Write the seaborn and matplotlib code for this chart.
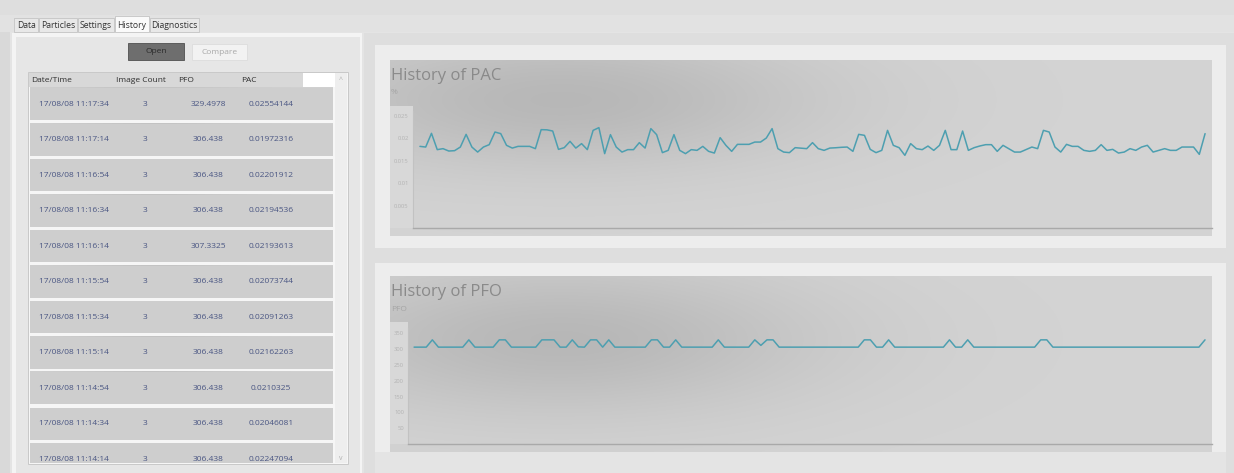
import numpy as np
import pandas as pd
import matplotlib
matplotlib.use("Agg")
import matplotlib.pyplot as plt
import seaborn as sns
from matplotlib.patches import Rectangle

# --- table values (newest first, as in the list view) ---
row_times = ["17/08/08 11:17:34", "17/08/08 11:17:14", "17/08/08 11:16:54", "17/08/08 11:16:34",
             "17/08/08 11:16:14", "17/08/08 11:15:54", "17/08/08 11:15:34", "17/08/08 11:15:14",
             "17/08/08 11:14:54", "17/08/08 11:14:34", "17/08/08 11:14:14"]
row_counts = ["3"] * 11
row_pfo = ["329.4978", "306.438", "306.438", "306.438", "307.3325", "306.438",
           "306.438", "306.438", "306.438", "306.438", "306.438"]
row_pac = ["0.02554144", "0.01972316", "0.02201912", "0.02194536", "0.02193613", "0.02073744",
           "0.02091263", "0.02162263", "0.0210325", "0.02046081", "0.02247094"]

# --- chart series (oldest -> newest) ---
pac_series = [0.01821, 0.01806, 0.02112, 0.01748, 0.01770, 0.01717, 0.01725, 0.01806, 0.02089, 0.01806,
              0.01694, 0.01806, 0.01859, 0.02141, 0.02105, 0.01844, 0.01783, 0.01821, 0.01821, 0.01821,
              0.01770, 0.02194, 0.02190, 0.02163, 0.01754, 0.01792, 0.01933, 0.01783, 0.01882, 0.01748,
              0.02178, 0.02239, 0.01659,
              0.02083, 0.01806, 0.01694, 0.01748, 0.01748, 0.01904, 0.01783, 0.02217, 0.02083, 0.01681,
              0.01732, 0.02083, 0.01732, 0.01659, 0.01748, 0.01732, 0.01821, 0.01710, 0.01672, 0.02016,
              0.01844, 0.01710, 0.01866, 0.01866, 0.01866, 0.01917, 0.01917, 0.02007, 0.02217, 0.01770,
              0.01694,
              0.01681, 0.01792, 0.01780, 0.01770, 0.01904, 0.01770, 0.01732, 0.01783, 0.01790, 0.01800,
              0.01806, 0.01710, 0.02089, 0.02067, 0.01754, 0.01681, 0.01732, 0.02178, 0.01844, 0.01792,
              0.01621, 0.01882, 0.01770, 0.01748, 0.01828, 0.01732, 0.01844, 0.02178, 0.01748, 0.01748,
              0.02163, 0.01732, 0.01792, 0.01830, 0.01859, 0.01859, 0.01710, 0.01844,
              0.01770, 0.01694, 0.01694, 0.01750, 0.01806, 0.01770, 0.02178, 0.02141, 0.01806, 0.01694,
              0.01866, 0.01821, 0.01821, 0.01732, 0.01710, 0.01732, 0.01859, 0.01732, 0.01754, 0.01672,
              0.01694, 0.01770, 0.01732, 0.01806, 0.01844, 0.01694, 0.01732, 0.01770, 0.01732, 0.01732,
              0.01806, 0.01806, 0.01806, 0.01643, 0.02105]

B, M, P = 306.438, 307.3325, 329.4978
pfo_series = [B, B, B, P, B, B, B, B, B, P,
              B, B, B, B, P, P, B, B, B, B,
              B, P, P, P, B, B, P, M, B, P,
              P, B, P, B, B, B, B, B, B, P,
              P, B, B, P, B, B, B, B, B, B,
              P, B, B, B, B, B, P, 312.0, P, P,
              B, B, B, B, B, B, B, B, B, B,
              B, B, B, B, P, P, B, B, P, B,
              B, B, B, B, B, B, B, B, P, B,
              B, P, B, B, B, B, B, B, B, B,
              B, B, B, P, P, B, B, B, B, B,
              B, B, B, B, B, B, B, B, B, B,
              B, B, B, B, B, B, B, B, B, B,
              P]

pac_ticks = [0.005, 0.01, 0.015, 0.02, 0.025]
pac_tick_labels = ["0.005", "0.01", "0.015", "0.02", "0.025"]
pfo_ticks = [50, 100, 150, 200, 250, 300, 350]

tabs = ["Data", "Particles", "Settings", "History", "Diagnostics"]

sns.set_style("white")
plt.rcParams['font.family'] = ['Open Sans', 'DejaVu Sans']

W, H = 1234, 473
fig = plt.figure(figsize=(W / 100, H / 100), dpi=100)
fig.patch.set_facecolor('#d9d9d9')
bg = fig.add_axes([0, 0, 1, 1])
bg.axis('off')


def rect(x0, y0, x1, y1, color, ec='none', lw=0, z=1):
    bg.add_patch(Rectangle((x0, y0), x1 - x0, y1 - y0, facecolor=color, edgecolor=ec, lw=lw, zorder=z))


def blob(x0, y0, x1, y1, cx, cy, sx, sy, base, dark):
    xs = np.linspace(x0, x1, 200)
    ys = np.linspace(y0, y1, 80)
    gx, gy = np.meshgrid(xs, ys)
    g = np.exp(-((gx - cx) / sx) ** 2 - ((gy - cy) / sy) ** 2)
    v = base - (base - dark) * g
    img = np.dstack([v, v, v])
    bg.imshow(img, extent=(x0, x1, y1, y0), origin='upper', aspect='auto', zorder=2,
              interpolation='bilinear')


def box(x0, y0, x1, y1):
    return [x0 / W, 1 - y1 / H, (x1 - x0) / W, (y1 - y0) / H]


# window / tab strip
rect(0, 0, W, 15, '#dedede')
rect(0, 15, W, 32, '#e2e2e2')
tab_x = [(14, 38), (39, 77), (78, 114), (115, 149), (150, 199)]
for name, (a, b) in zip(tabs, tab_x):
    sel = name == "History"
    rect(a, 16 if sel else 18, b, 32, '#fafafa' if sel else '#e8e8e8', ec='#c4c4c4', lw=0.6, z=3)
    bg.text((a + b) / 2, 25, name, ha='center', va='center', fontsize=6.2, color='#333333', zorder=4)

# content area
rect(10, 32, W, H, '#e4e4e4')
rect(12, 33, 362, H, '#f4f4f4')
rect(16, 37, 360, H, '#e6e6e6')
rect(364, 33, W, H, '#dedede')

# buttons
rect(128, 43, 184, 60, '#6e6e6e', ec='#505050', lw=0.6, z=3)
bg.text(156, 51.5, "Open", ha='center', va='center', fontsize=6, color='#2a2a2a', zorder=4)
rect(192, 44, 247, 60, '#f2f2f2', ec='#dcdcdc', lw=0.6, z=3)
bg.text(219.5, 52, "Compare", ha='center', va='center', fontsize=6, color='#a8a8a8', zorder=4)

# table
rect(28, 72, 348, 464, '#f6f6f6', ec='#c8c8c8', lw=0.7, z=2)
rect(29, 73, 303, 87, '#d8d8d8', z=3)
rect(303, 73, 335, 87, '#ffffff', z=3)
rect(335, 73, 347, 463, '#eeeeee', z=3)
bg.text(341, 80, "^", ha='center', va='center', fontsize=5, color='#b0b0b0', zorder=4)
bg.text(341, 458, "v", ha='center', va='center', fontsize=5, color='#b0b0b0', zorder=4)
for label, xh in zip(["Date/Time", "Image Count", "PFO", "PAC"], [31, 116, 178, 241]):
    bg.text(xh, 80, label, ha='left', va='center', fontsize=6, color='#2e2e2e', zorder=4)

row_h, row_step, row_top = 32, 35.5, 88
for i, (t, c, pf, pa) in enumerate(zip(row_times, row_counts, row_pfo, row_pac)):
    y0 = row_top + i * row_step
    y1 = min(y0 + row_h, 463)
    rect(30, y0, 333, y1, '#cecece', z=3)
    blob(30, y0, 333, y1, 150, y0 + 8, 90, 14, 0.82, 0.75)
    yc = y0 + 16
    if yc < 463:
        bg.text(39, yc, t, ha='left', va='center', fontsize=6, color='#4a5683', zorder=5)
        bg.text(145, yc, c, ha='center', va='center', fontsize=6, color='#4a5683', zorder=5)
        bg.text(208, yc, pf, ha='center', va='center', fontsize=6, color='#4a5683', zorder=5)
        bg.text(271, yc, pa, ha='center', va='center', fontsize=6, color='#4a5683', zorder=5)

# chart panels
rect(375, 45, 1226, 248, '#ededed')
blob(390, 61, 1212, 236, 560, 100, 260, 70, 0.83, 0.72)
rect(390, 106, 413, 228, '#d8d8d8', z=3)
bg.text(391, 76, "History of PAC", ha='left', va='center', fontsize=12, color='#8a8a8a', zorder=4)
bg.text(391, 93, "%", ha='left', va='center', fontsize=6, color='#a5a5a5', zorder=4)

rect(375, 263, 1226, 473, '#ededed')
rect(375, 452, 1226, 473, '#e4e4e4')
blob(390, 277, 1212, 452, 560, 340, 260, 75, 0.83, 0.72)
rect(390, 322, 408, 444, '#d8d8d8', z=3)
bg.text(391, 292, "History of PFO", ha='left', va='center', fontsize=12, color='#8a8a8a', zorder=4)
bg.text(391, 309, "PFO", ha='left', va='center', fontsize=6, color='#a5a5a5', zorder=4)

bg.set_xlim(0, W)
bg.set_ylim(H, 0)


def style_chart(ax, ticks, labels, ymax, n, left_pad, right_pad):
    ax.set_facecolor('none')
    ax.set_ylim(0, ymax)
    ax.set_xlim(-left_pad, n - 1 + right_pad)
    ax.set_yticks(ticks)
    ax.set_yticklabels(labels, fontsize=4.2, color='#b3b3b3')
    ax.set_xticks([])
    ax.tick_params(axis='y', length=0, pad=3)
    ax.set_xlabel("")
    ax.set_ylabel("")
    for s in ['top', 'right']:
        ax.spines[s].set_visible(False)
    ax.spines['bottom'].set_color('#a9a9a9')
    ax.spines['bottom'].set_linewidth(1.0)
    ax.spines['left'].set_color('#c2c2c2')
    ax.spines['left'].set_linewidth(0.8)


pac_df = pd.DataFrame({"sample": np.arange(len(pac_series)), "PAC": pac_series})
pfo_df = pd.DataFrame({"sample": np.arange(len(pfo_series)), "PFO": pfo_series})

ax1 = fig.add_axes(box(413, 111, 1212, 228))
sns.lineplot(data=pac_df, x="sample", y="PAC", ax=ax1, color='#4d9fb0', lw=1.1)
style_chart(ax1, pac_ticks, pac_tick_labels, 0.0261, len(pac_series), 1.2, 1.2)

ax2 = fig.add_axes(box(408, 328, 1212, 444))
sns.lineplot(data=pfo_df, x="sample", y="PFO", ax=ax2, color='#4d9fb0', lw=1.1)
style_chart(ax2, pfo_ticks, [str(t) for t in pfo_ticks], 367, len(pfo_series), 1.0, 1.15)

fig.savefig("out.png", dpi=100)
